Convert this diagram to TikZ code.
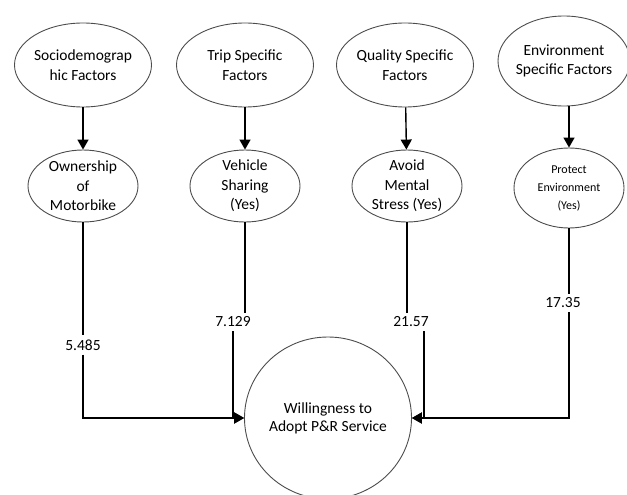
\documentclass[tikz,border=0pt]{standalone}
\usepackage{fontspec}
\setmainfont{Carlito}
\usetikzlibrary{shapes.geometric,arrows.meta}

\tikzset{
  factor/.style={ellipse, draw=black!70, line width=0.9pt, inner xsep=-12pt, inner ysep=-6pt,
    align=center, font=\fontsize{15.5}{19.5}\selectfont},
  weight/.style={inner xsep=1pt, inner ysep=4pt, font=\fontsize{15.5}{19}\selectfont},
  link/.style={line width=1.4pt},
  tip/.style={-{Triangle[length=10pt,width=11pt]}},
}

\begin{document}
\begin{tikzpicture}[x=1pt,y=-1pt]
      \useasboundingbox (0,0) rectangle (627,495);
      \draw
        (83,65) node[factor, minimum width=137, minimum height=84] (socio){Sociodemograp\\hic Factors}
        (245,65) node[factor, minimum width=137, minimum height=84] (trip){Trip Specific\\Factors}
        (405,65) node[factor, minimum width=137, minimum height=84] (quality){Quality Specific\\Factors}
        (564,61) node[factor, minimum width=132, minimum height=90] (env){Environment\\Specific Factors}
        (83,186) node[factor, minimum width=110, minimum height=72] (owner){Ownership\\of\\Motorbike}
        (245,186) node[factor, minimum width=110, minimum height=72] (share){Vehicle\\Sharing\\(Yes)}
        (407,186) node[factor, minimum width=110, minimum height=72] (stress){Avoid\\Mental\\Stress (Yes)}
        (569,188) node[factor, minimum width=110, minimum height=80,
          font=\fontsize{12}{18}\selectfont] (protect){Protect\\Environment\\(Yes)}
        (328,418) node[factor, minimum width=167, minimum height=162,
          font=\fontsize{15.5}{18}\selectfont] (adopt){Willingness to\\Adopt P\&R Service};
      \draw
        (83,345) node[weight] (w1){5.485}
        (233,322) node[weight] (w2){7.129}
        (411,322) node[weight] (w3){21.57}
        (563,303) node[weight] (w4){17.35};
      \coordinate (j3) at (424,418);
      \begin{scope}[link, tip]
        \draw (socio) to (owner);
        \draw (trip) to (share);
        \draw (quality) to (stress);
        \draw (protect |- env.south) to (protect.north);
      \end{scope}
      \begin{scope}[link]
        \draw (owner) to (w1);
        \draw (share.south) to (share.south |- w2.north);
        \draw (stress.south) to (stress.south |- w3.north);
        \draw (protect.south) to (protect.south |- w4.north);
      \end{scope}
      \begin{scope}[link, tip]
        \draw (w1) |- (adopt.west);
        \draw (w2) |- (adopt.west);
        \draw (j3 |- w3.south) |- (adopt.east);
        \draw (protect.south |- w4.south) |- (adopt.east);
      \end{scope}
    \end{tikzpicture}
\end{document}
